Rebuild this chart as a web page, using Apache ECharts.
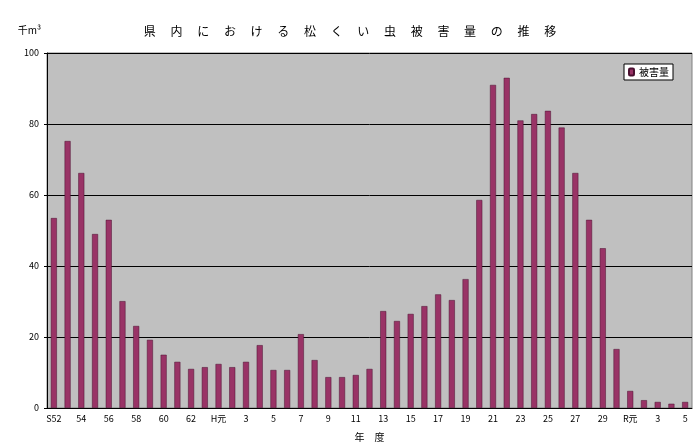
<!DOCTYPE html>
<html><head><meta charset="utf-8">
<script src="https://cdn.jsdelivr.net/npm/echarts@6/dist/echarts.min.js"></script>
<style>html,body{margin:0;padding:0;background:#fff}#c{width:700px;height:447px}</style>
</head><body><div id="c"></div>
<script>
const categories = ['S52','53','54','55','56','57','58','59','60','61','62','63',
 'H元','2','3','4','5','6','7','8','9','10','11','12','13','14','15','16','17','18','19','20',
 '21','22','23','24','25','26','27','28','29','30','R元','2','3','4','5'];
const damage = [53.5,75.2,66.2,49,53,30.1,23.1,19.2,15,13,11,11.5,
 12.4,11.5,13,17.7,10.7,10.7,20.8,13.5,8.7,8.7,9.3,11,27.3,24.5,26.5,28.7,32,30.4,36.3,58.6,
 91,93,81,82.8,83.7,79,66.2,53,45,16.6,4.8,2.2,1.7,1.2,1.7];
const yTicks = [0,20,40,60,80,100];
const titleText = '県内における松くい虫被害量の推移';
const chart = echarts.init(document.getElementById('c'));
const font = '"Noto Sans CJK JP", sans-serif';
chart.setOption({
  animation:false,
  textStyle:{fontFamily:font},
  title:{text:titleText.split('').join('\u3000 '),left:'center',top:20,
    textStyle:{fontSize:12,fontWeight:'normal',color:'#000',fontFamily:font}},
  grid:{left:47,right:8,top:53,bottom:39,backgroundColor:'#c0c0c0',show:true,borderColor:'#808080',borderWidth:1},
  legend:{right:27,top:64,itemWidth:5,itemHeight:7,itemGap:2,backgroundColor:'#fff',borderColor:'#000',borderWidth:1,
    padding:[3,4],textStyle:{fontSize:10,color:'#000',fontFamily:font},data:['被害量']},
  xAxis:{type:'category',data:categories,name:'年\u3000度',nameLocation:'middle',nameGap:24,
    nameTextStyle:{fontSize:10,color:'#000',fontFamily:font},
    axisTick:{show:false},axisLine:{lineStyle:{color:'#000'}},
    axisLabel:{interval:1,fontSize:9,color:'#000',margin:6,fontFamily:font}},
  yAxis:{type:'value',min:0,max:100,interval:20,name:'千m³',nameLocation:'end',nameGap:18,
    nameTextStyle:{fontSize:10,color:'#000',align:'right',padding:[0,6,0,0],fontFamily:font},
    axisLine:{show:true,lineStyle:{color:'#000'}},axisTick:{show:true,inside:false,length:3},
    axisLabel:{fontSize:9,color:'#000',fontFamily:font,formatter:v=>yTicks.includes(v)?v:''},
    splitLine:{lineStyle:{color:'#000',width:1}}},
  series:[{name:'被害量',type:'bar',data:damage,barWidth:6,
    itemStyle:{color:'#993366',borderColor:'#4a1030',borderWidth:0.5}}]
});
</script></body></html>
